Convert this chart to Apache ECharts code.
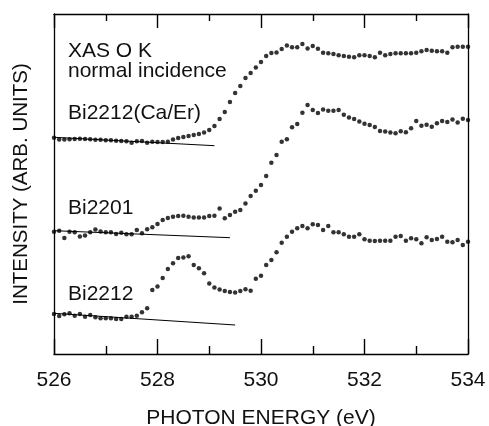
<!DOCTYPE html>
<html>
<head>
<meta charset="utf-8">
<script src="https://cdn.jsdelivr.net/npm/echarts@6/dist/echarts.min.js"></script>
<style>
    html, body { margin: 0; padding: 0; background: #fff; }
    #chart { width: 489px; height: 426px; }
</style>
</head>
<body>
<div id="chart"></div>
<script>
// Photon energies (eV), 0.1 eV steps
const energies = [
    526.0, 526.1, 526.2, 526.3, 526.4, 526.5, 526.6, 526.7, 526.8, 526.9,
    527.0, 527.1, 527.2, 527.3, 527.4, 527.5, 527.6, 527.7, 527.8, 527.9,
    528.0, 528.1, 528.2, 528.3, 528.4, 528.5, 528.6, 528.7, 528.8, 528.9,
    529.0, 529.1, 529.2, 529.3, 529.4, 529.5, 529.6, 529.7, 529.8, 529.9,
    530.0, 530.1, 530.2, 530.3, 530.4, 530.5, 530.6, 530.7, 530.8, 530.9,
    531.0, 531.1, 531.2, 531.3, 531.4, 531.5, 531.6, 531.7, 531.8, 531.9,
    532.0, 532.1, 532.2, 532.3, 532.4, 532.5, 532.6, 532.7, 532.8, 532.9,
    533.0, 533.1, 533.2, 533.3, 533.4, 533.5, 533.6, 533.7, 533.8, 533.9,
    534.0
];

// Intensities (arb. units, offset curves)
const caErValues = [
    216.3, 214.5, 214.5, 214.7, 215.0, 215.3, 215.0, 214.7, 214.3, 214.3,
    213.7, 213.7, 213.3, 213.0, 212.7, 211.3, 212.7, 213.0, 211.3, 212.3,
    212.0, 212.0, 212.3, 214.5, 216.0, 217.0, 218.0, 219.0, 220.0, 221.5,
    224.0, 228.0, 235.0, 242.0, 252.0, 261.0, 268.0, 276.0, 281.0, 286.5,
    292.0, 298.0, 301.0, 301.5, 305.0, 308.5, 306.7, 306.7, 310.0, 305.5,
    308.0, 305.3, 301.3, 300.7, 300.0, 298.7, 298.0, 297.3, 296.7, 298.7,
    298.7, 298.0, 296.7, 301.3, 298.7, 300.0, 300.7, 300.7, 300.7, 300.7,
    301.3, 302.7, 304.0, 303.3, 302.7, 302.7, 301.3, 306.7, 307.3, 307.3,
    307.3
];
const bi2201Values = [
    122.3, 123.3, 116.0, 122.3, 121.7, 117.5, 118.5, 121.7, 124.5, 122.5,
    121.7, 121.7, 120.0, 121.3, 119.7, 119.7, 124.0, 120.7, 124.7, 126.7,
    130.0, 134.0, 136.0, 137.3, 138.0, 138.3, 137.3, 136.5, 136.5, 136.5,
    138.0, 138.3, 145.5, 135.7, 139.0, 142.3, 144.0, 150.5, 158.0, 163.3,
    169.0, 178.0, 191.3, 199.0, 212.3, 214.7, 226.7, 230.0, 241.3, 249.0,
    244.0, 241.0, 244.5, 243.3, 243.3, 244.0, 239.3, 236.5, 235.0, 232.5,
    230.3, 229.0, 227.0, 223.0, 222.5, 221.5, 220.7, 222.7, 221.7, 225.7,
    233.0, 228.2, 229.3, 227.3, 230.7, 233.0, 232.0, 234.5, 231.5, 235.2,
    234.0
];
const bi2212Values = [
    40.0, 38.0, 39.7, 40.7, 38.3, 40.0, 37.3, 39.0, 36.7, 35.7,
    35.7, 35.7, 35.0, 35.0, 37.3, 37.3, 38.3, 41.7, 45.7, 64.0,
    67.5, 76.0, 85.0, 90.7, 96.0, 96.5, 97.7, 89.0, 85.7, 80.7,
    70.5, 66.5, 64.5, 63.0, 62.0, 61.5, 63.0, 64.7, 63.3, 75.3,
    78.3, 89.0, 94.0, 101.7, 111.3, 117.3, 122.3, 125.7, 128.0, 125.7,
    129.7, 129.0, 124.0, 128.0, 121.7, 121.7, 119.7, 117.3, 117.3, 119.7,
    114.7, 113.3, 113.0, 113.3, 113.3, 113.3, 117.3, 118.0, 113.3, 115.7,
    114.7, 110.7, 116.7, 114.0, 115.0, 117.3, 112.3, 111.7, 114.0, 109.0,
    112.3
];

// Straight background lines under each curve [energy, intensity]
const caErBackground = [[526.0, 216.7], [529.1, 208.3]];
const bi2201Background = [[526.0, 123.3], [529.4, 116.3]];
const bi2212Background = [[526.0, 40.7], [529.5, 29.0]];

// Curve labels (y = vertical centre of the capitals, in px)
const labels = [
    {text: 'XAS O K', y: 49.5},
    {text: 'normal incidence', y: 69.5},
    {text: 'Bi2212(Ca/Er)', y: 111.5},
    {text: 'Bi2201', y: 207},
    {text: 'Bi2212', y: 293}
];

const FONT = '"Liberation Sans", Arial, Helvetica, sans-serif';
const INK = '#111';

const toPoints = (values) => energies.map((e, i) => [e, values[i]]);

const dotSeries = (values) => ({
    type: 'scatter',
    data: toPoints(values),
    symbol: 'circle',
    symbolSize: 4.5,
    itemStyle: {color: '#000'},
    silent: true,
    animation: false
});

const backgroundSeries = (points) => ({
    type: 'line',
    data: points,
    showSymbol: false,
    lineStyle: {color: '#000', width: 1},
    silent: true,
    animation: false
});

// Frame axes: bottom axis with labels, top axis only with ticks
const energyAxis = (position, tickLength, minorLength, showLabels) => ({
    type: 'value',
    position: position,
    min: 526,
    max: 534,
    interval: 2,
    axisLine: {show: true, onZero: false, lineStyle: {color: '#000', width: 1.3}},
    axisTick: {show: true, inside: true, length: tickLength, lineStyle: {color: '#000', width: 1.4}},
    minorTick: {show: true, splitNumber: 2, length: minorLength, lineStyle: {color: '#000', width: 1.4}},
    axisLabel: {show: showLabels, fontFamily: FONT, fontSize: 21, color: INK, margin: 16},
    splitLine: {show: false},
    minorSplitLine: {show: false}
});

const intensityAxis = (position) => ({
    type: 'value',
    position: position,
    min: 0,
    max: 340,
    axisLine: {show: true, onZero: false, lineStyle: {color: '#000', width: 1.3}},
    axisTick: {show: false},
    axisLabel: {show: false},
    splitLine: {show: false}
});

const chart = echarts.init(document.getElementById('chart'));

const bottomAxis = energyAxis('bottom', 15, 8, true);
bottomAxis.name = 'PHOTON ENERGY (eV)';
bottomAxis.nameLocation = 'middle';
bottomAxis.nameGap = 54;
bottomAxis.nameTextStyle = {fontFamily: FONT, fontSize: 21, color: INK};

const leftAxis = intensityAxis('left');
leftAxis.name = 'INTENSITY (ARB. UNITS)';
leftAxis.nameLocation = 'middle';
leftAxis.nameGap = 22;
leftAxis.nameTextStyle = {fontFamily: FONT, fontSize: 20.5, color: INK};

chart.setOption({
    backgroundColor: '#fff',
    animation: false,
    grid: {left: 54, right: 21, top: 14, bottom: 72, containLabel: false, outerBoundsMode: 'none'},
    xAxis: [bottomAxis, energyAxis('top', 14, 7, false)],
    yAxis: [leftAxis, intensityAxis('right')],
    graphic: labels.map(l => ({
        type: 'text',
        left: 68,
        top: l.y - 9,
        style: {text: l.text, fontFamily: FONT, fontSize: 21, fill: INK}
    })),
    series: [
        dotSeries(caErValues),
        dotSeries(bi2201Values),
        dotSeries(bi2212Values),
        backgroundSeries(caErBackground),
        backgroundSeries(bi2201Background),
        backgroundSeries(bi2212Background)
    ]
});
</script>
</body>
</html>
